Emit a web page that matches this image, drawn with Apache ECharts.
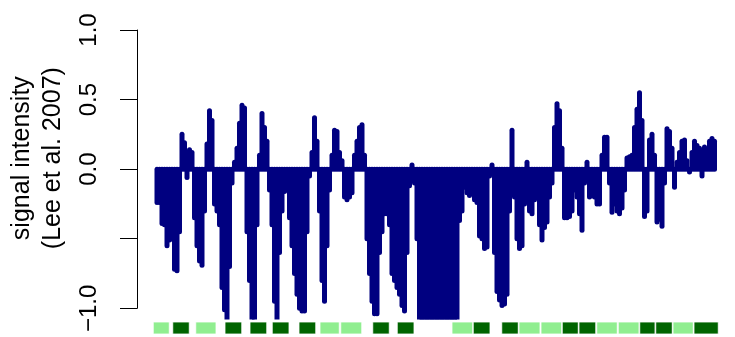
<!DOCTYPE html>
<html>
<head>
<meta charset="utf-8">
<script src="https://cdn.jsdelivr.net/npm/echarts@6/dist/echarts.min.js"></script>
<style>
html,body{margin:0;padding:0;background:#fff;}
#chart{width:735px;height:337px;}
</style>
</head>
<body>
<div id="chart"></div>
<script>
// probe signal values (one per probe, probes numbered 0..N-1 along the region)
const signalValues = [
  -0.24, -0.24, -0.39, -0.40, -0.55, -0.51, -0.50, -0.72, -0.73, -0.45,
   0.25,  0.19, -0.06,  0.14,  0.12, -0.35, -0.55, -0.66, -0.69, -0.30,
   0.18,  0.42,  0.35, -0.25, -0.30, -0.40, -0.85, -1.01, -1.15, -0.70,
  -0.10,  0.05,  0.15,  0.33,  0.46,  0.44, -0.45, -0.80, -1.15, -1.15,
  -0.40,  0.10,  0.40,  0.30,  0.20, -0.15, -0.40, -0.95, -1.10, -0.60,
  -0.30, -0.16, -0.15, -0.35, -0.55, -0.75, -0.90, -1.00, -1.02, -1.02,
  -0.45, -0.05,  0.12,  0.37,  0.20, -0.30, -0.80, -0.95, -0.55, -0.15,
   0.10,  0.28,  0.27,  0.12,  0.06, -0.20, -0.22, -0.20, -0.17,  0.10,
   0.20,  0.30,  0.32,  0.10, -0.50, -0.75, -0.95, -1.04, -1.04, -0.60,
  -0.45, -0.32, -0.32, -0.40, -0.75, -0.80, -0.85, -0.90, -0.98, -1.02,
  -0.60, -0.12,  0.03, -0.10, -0.50, -1.20, -1.20, -1.20, -1.20, -1.20,
  -1.20, -1.20, -1.20, -1.20, -1.20, -1.20, -1.20, -1.20, -1.20, -1.20,
  -1.20, -0.37, -0.30, -0.13, -0.17, -0.19, -0.16, -0.22, -0.24, -0.48,
  -0.50, -0.57, -0.56, -0.05,  0.03, -0.60, -0.88, -0.94, -0.98, -0.97,
  -0.90, -0.30,  0.28, -0.20, -0.50, -0.57, -0.55, -0.25,  0.05, -0.30,
  -0.32, -0.22, -0.20, -0.40, -0.51, -0.42, -0.38, -0.20, -0.10,  0.30,
   0.47,  0.42,  0.15, -0.35, -0.35, -0.34, -0.30, -0.15, -0.20, -0.32,
  -0.44, -0.10,  0.05, -0.20, -0.19, -0.20, -0.25, -0.25,  0.10,  0.23,
   0.23, -0.10, -0.31, -0.25, -0.30, -0.32, -0.28, -0.15,  0.08,  0.09,
   0.10,  0.30,  0.43,  0.55,  0.35, -0.34, -0.30,  0.21,  0.25,  0.10,
  -0.38, -0.36, -0.41, -0.10,  0.29,  0.27,  0.15, -0.13,  0.05,  0.12,
   0.20,  0.21,  0.06, -0.02,  0.12,  0.20,  0.17,  0.15, -0.05,  0.16,
   0.09,  0.20,  0.22,  0.20
];

// gene annotation (in probe-position units)
const geneStart = [-1.5, 6.3, 15.5, 27.2, 37.2, 46.1, 56.8, 65.2, 73.5, 86.3, 96.1,
  118.0, 126.5, 137.9, 144.8, 153.6, 162.1, 168.8, 175.9, 184.5, 193.1, 199.5, 206.4, 214.8];
const geneEnd = [4.9, 12.9, 23.6, 33.9, 43.9, 52.8, 63.5, 72.9, 81.9, 92.9, 102.8,
  126.3, 133.2, 144.5, 153.2, 161.9, 168.5, 175.5, 184.1, 192.8, 199.2, 206.1, 214.5, 224.5];
const geneShade = ['light','dark','light','dark','dark','dark','dark','light','light','dark','dark',
  'light','dark','dark','light','light','dark','dark','light','light','dark','dark','light','dark'];

// y axis ticks
const yTickValues = [-1.0, -0.5, 0.0, 0.5, 1.0];
const yTickLabels = ['\u22121.0', '', '0.0', '0.5', '1.0'];
const yTitle = 'signal intensity\n(Lee et al. 2007)';

const FONT = 'Liberation Sans, Arial, Helvetica, sans-serif';
const shadeColor = { light: '#90EE90', dark: '#006400' };

const signalData = signalValues.map((v, i) => [i, v]);
const geneData = geneStart.map((s, i) => [s, geneEnd[i], i]);

const chart = echarts.init(document.getElementById('chart'), null, { renderer: 'canvas' });

chart.setOption({
  animation: false,
  backgroundColor: '#ffffff',
  grid: [
    { left: 147, right: 8, top: 18.9, bottom: 17.6 },
    { left: 137, width: 10, top: 30, bottom: 28.7 },
    { left: 147, right: 8, top: 322, height: 12 }
  ],
  xAxis: [
    { gridIndex: 0, type: 'value', min: -4, max: 228, show: false },
    { gridIndex: 1, type: 'value', min: 0, max: 1, show: false },
    { gridIndex: 2, type: 'value', min: -4, max: 228, show: false }
  ],
  yAxis: [
    { gridIndex: 0, type: 'value', min: -1.08, max: 1.08, show: false },
    {
      gridIndex: 1, type: 'value', min: -1, max: 1, interval: 0.5,
      position: 'left',
      axisLine: { show: true, lineStyle: { color: '#000', width: 1 } },
      axisTick: { show: true, length: 17, lineStyle: { color: '#000', width: 1 } },
      splitLine: { show: false },
      axisLabel: {
        show: true, rotate: 90, margin: 36, color: '#000', fontSize: 24, fontFamily: FONT,
        formatter: function (v) {
          const k = yTickValues.findIndex(t => Math.abs(t - v) < 1e-9);
          return k >= 0 ? yTickLabels[k] : '';
        }
      },
      name: yTitle,
      nameLocation: 'middle',
      nameRotate: 90,
      nameGap: 68,
      nameTextStyle: { color: '#000', fontSize: 25, fontFamily: FONT, lineHeight: 31, padding: [0, 0, 0, 22] }
    },
    { gridIndex: 2, type: 'value', min: 0, max: 1, show: false }
  ],
  series: [
    {
      type: 'custom',
      xAxisIndex: 0, yAxisIndex: 0,
      clip: true,
      data: signalData,
      renderItem: function (params, api) {
        const x = api.value(0), v = api.value(1);
        const a = api.coord([x, 0]);
        const b = api.coord([x, v]);
        return {
          type: 'line',
          shape: { x1: a[0], y1: a[1], x2: b[0], y2: b[1] },
          style: { stroke: '#000080', lineWidth: 5, lineCap: 'round' }
        };
      }
    },
    {
      type: 'custom',
      xAxisIndex: 2, yAxisIndex: 2,
      clip: false,
      data: geneData,
      renderItem: function (params, api) {
        const s = api.value(0), e = api.value(1), idx = api.value(2);
        const p0 = api.coord([s, 1]);
        const p1 = api.coord([e, 0]);
        return {
          type: 'rect',
          shape: { x: p0[0], y: p0[1], width: p1[0] - p0[0], height: p1[1] - p0[1] },
          style: { fill: shadeColor[geneShade[idx]], stroke: '#ffffff', lineWidth: 0.8 }
        };
      }
    }
  ]
});
</script>
</body>
</html>
